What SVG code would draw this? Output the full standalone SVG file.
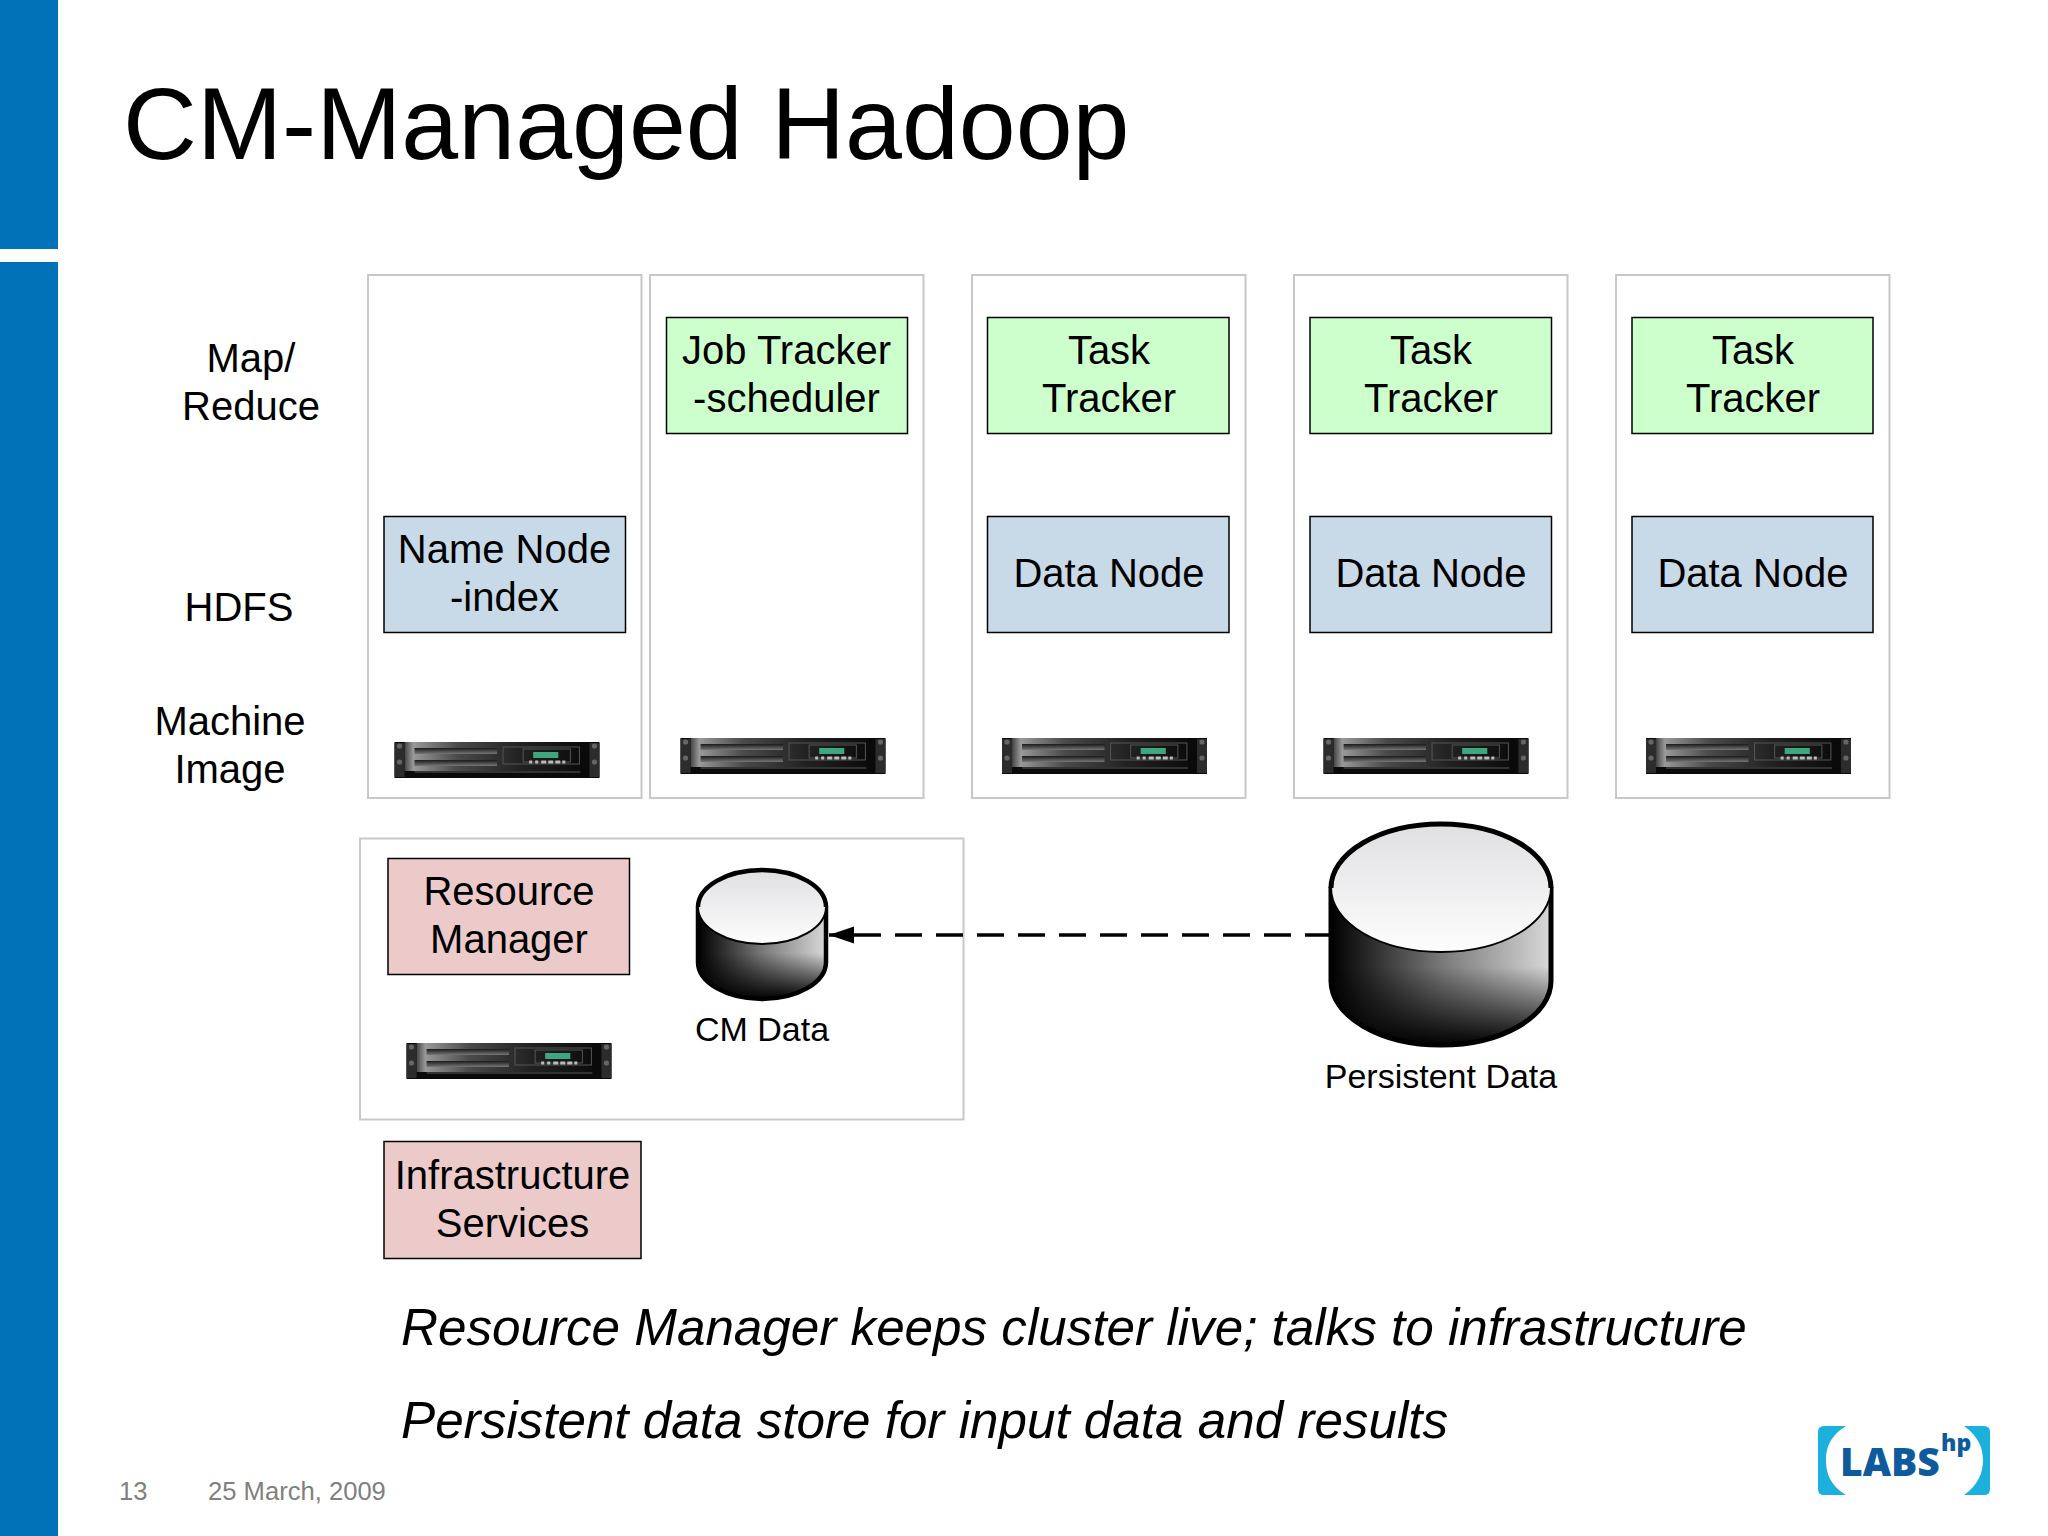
<svg xmlns="http://www.w3.org/2000/svg" width="2048" height="1536" viewBox="0 0 2048 1536">
<style>
text{font-family:"Liberation Sans",Arial,sans-serif;fill:#000}
.col{fill:#fff;stroke:#c8c8c8;stroke-width:2}
.g{fill:#ccffcc;stroke:#000;stroke-width:1.5}
.b{fill:#c8d9e8;stroke:#000;stroke-width:1.5}
.p{fill:#eccaca;stroke:#000;stroke-width:1.5}
.t{font-size:40px;text-anchor:middle}
.s{font-size:34px;text-anchor:middle}
.i{font-size:51.2px;font-style:italic}
.f{font-size:25.6px;fill:#808080}
.cyl{stroke:#000;stroke-linejoin:round}
.logo{font-family:"Open Sans",sans-serif;font-weight:800;fill:#0d5a9c}
</style>
<defs>
<linearGradient id="top" x1="0" y1="0" x2="0" y2="1"><stop offset="0" stop-color="#e0e0e2"/><stop offset="1" stop-color="#fdfdfe"/></linearGradient>
<linearGradient id="sh" x1="0" y1="0" x2="1" y2="0"><stop offset="0" stop-color="#000"/><stop offset=".5" stop-color="#787878"/><stop offset="1" stop-color="#d8d8d8"/></linearGradient>
<linearGradient id="sv" x1="0" y1="0" x2="0" y2="1"><stop offset=".5" stop-color="#000" stop-opacity="0"/><stop offset=".98" stop-color="#000" stop-opacity=".95"/></linearGradient>
<linearGradient id="sb" x1="0" y1="0" x2="1" y2="0"><stop offset="0" stop-color="#444"/><stop offset=".05" stop-color="#999"/><stop offset=".3" stop-color="#4a4a4a"/><stop offset=".65" stop-color="#222"/><stop offset="1" stop-color="#0c0c0c"/></linearGradient>
<linearGradient id="sl" x1="0" y1="0" x2="0" y2="1"><stop offset="0" stop-color="#1a1a1a"/><stop offset="1" stop-color="#777"/></linearGradient>
<marker id="arr" markerUnits="userSpaceOnUse" markerWidth="26" markerHeight="20" refX="25" refY="10" orient="auto"><path d="M0 1.500L25 10L0 18.500Z" fill="#000"/></marker>
<symbol id="server" viewBox="0 0 204 36" overflow="visible" preserveAspectRatio="none">
<rect width="204" height="36" fill="#0a0a0a"/>
<rect x="10" y="0" width="175" height="29" fill="url(#sb)"/>
<rect x="0" y="1" width="10" height="34" fill="#2c2c2c"/><rect x="194" y="1" width="10" height="34" fill="#2c2c2c"/>
<circle cx="5" cy="4" r="2.600" fill="#666"/><circle cx="5" cy="20" r="2.600" fill="#666"/><circle cx="199" cy="4" r="2.600" fill="#666"/><circle cx="199" cy="20" r="2.600" fill="#666"/>
<rect x="20" y="6" width="82" height="6" fill="url(#sl)"/>
<rect x="20" y="18" width="82" height="6" fill="url(#sl)"/>
<rect x="20" y="29" width="165" height="2" fill="#333"/>
<path d="M108 5H184V22H108ZM128 7H175V20H128Z" fill="none" stroke="#555"/>
<rect x="138" y="10" width="25" height="6" fill="#3fa77f"/>
<path d="M134 20h3M140 20h3M146 20h5M153 20h5M160 20h5M167 20h3" stroke="#bbb" stroke-width="3"/>
</symbol>
</defs>
<rect width="2048" height="1536" fill="#fff"/>
<g id="sidebar"><rect width="58" height="249" fill="#0072b8"/><rect y="262" width="58" height="1274" fill="#0072b8"/></g>
<text id="title" x="123" y="159" font-size="102.300">CM-Managed Hadoop</text>
<g id="row-labels">
<text class="t" x="251" y="372">Map/</text><text class="t" x="251" y="420">Reduce</text>
<text class="t" x="239" y="621">HDFS</text>
<text class="t" x="230" y="735">Machine</text><text class="t" x="230" y="783">Image</text>
</g>
<g id="machine-1"><rect class="col" x="368" y="275" width="273.500" height="523"/><use href="#server" x="394.500" y="742" width="205" height="36"/></g>
<g id="name-node"><rect class="b" x="384" y="516.500" width="241.500" height="116"/><text class="t" x="504.500" y="563">Name Node</text><text class="t" x="504.500" y="611">-index</text></g>
<g id="machine-2"><rect class="col" x="650" y="275" width="273.500" height="523"/><use href="#server" x="680.500" y="738" width="205" height="36"/></g>
<g id="job-tracker"><rect class="g" x="666.500" y="317.500" width="241" height="116"/><text class="t" x="786.500" y="364">Job Tracker</text><text class="t" x="786.500" y="412">-scheduler</text></g>
<g id="machine-3"><rect class="col" x="972" y="275" width="273.500" height="523"/><use href="#server" x="1002" y="738" width="205" height="36"/></g>
<g id="task-tracker-1"><rect class="g" x="987.500" y="317.500" width="241.500" height="116"/><text class="t" x="1109" y="364">Task</text><text class="t" x="1109" y="412">Tracker</text></g>
<g id="data-node-1"><rect class="b" x="987.500" y="516.500" width="241.500" height="116"/><text class="t" x="1109" y="587">Data Node</text></g>
<g id="machine-4"><rect class="col" x="1294" y="275" width="273.500" height="523"/><use href="#server" x="1323.500" y="738" width="205" height="36"/></g>
<g id="task-tracker-2"><rect class="g" x="1310" y="317.500" width="241.500" height="116"/><text class="t" x="1431" y="364">Task</text><text class="t" x="1431" y="412">Tracker</text></g>
<g id="data-node-2"><rect class="b" x="1310" y="516.500" width="241.500" height="116"/><text class="t" x="1431" y="587">Data Node</text></g>
<g id="machine-5"><rect class="col" x="1616" y="275" width="273.500" height="523"/><use href="#server" x="1646" y="738" width="205" height="36"/></g>
<g id="task-tracker-3"><rect class="g" x="1632" y="317.500" width="241" height="116"/><text class="t" x="1753" y="364">Task</text><text class="t" x="1753" y="412">Tracker</text></g>
<g id="data-node-3"><rect class="b" x="1632" y="516.500" width="241" height="116"/><text class="t" x="1753" y="587">Data Node</text></g>
<g id="cm-host"><rect class="col" x="360" y="838.500" width="603.500" height="281"/><use href="#server" x="406.500" y="1043" width="205" height="36"/></g>
<g id="resource-manager"><rect class="p" x="388" y="858.500" width="241.500" height="116"/><text class="t" x="509" y="905">Resource</text><text class="t" x="509" y="953">Manager</text></g>
<g id="infrastructure"><rect class="p" x="384" y="1141.500" width="257" height="117"/><text class="t" x="512.500" y="1189">Infrastructure</text><text class="t" x="512.500" y="1236.500">Services</text></g>
<g id="connectors"><path d="M1329 935H829" fill="none" stroke="#000" stroke-width="3.600" stroke-dasharray="27 14" stroke-dashoffset="3" marker-end="url(#arr)"/></g>
<g id="cm-data">
<path d="M698 907V962A64 37 0 0 0 826 962V907Z" fill="url(#sh)"/>
<path d="M698 907V962A64 37 0 0 0 826 962V907Z" fill="url(#sv)" class="cyl" stroke-width="4.500"/>
<ellipse cx="762" cy="907" rx="64" ry="37" fill="url(#top)" class="cyl" stroke-width="2"/>
<path d="M698 907A64 37 0 0 1 826 907" fill="none" class="cyl" stroke-width="4.500"/>
<text class="s" x="762" y="1041">CM Data</text>
</g>
<g id="persistent-data">
<path d="M1331 888V981A110 64 0 0 0 1551 981V888Z" fill="url(#sh)"/>
<path d="M1331 888V981A110 64 0 0 0 1551 981V888Z" fill="url(#sv)" class="cyl" stroke-width="5"/>
<ellipse cx="1441" cy="888" rx="110" ry="64" fill="url(#top)" class="cyl" stroke-width="2"/>
<path d="M1331 888A110 64 0 0 1 1551 888" fill="none" class="cyl" stroke-width="5"/>
<text class="s" x="1441" y="1088">Persistent Data</text>
</g>
<text class="i" x="401" y="1345">Resource Manager keeps cluster live; talks to infrastructure</text>
<text class="i" x="401" y="1437.500">Persistent data store for input data and results</text>
<text class="f" x="119" y="1500">13</text><text class="f" x="208" y="1500">25 March, 2009</text>
<g id="logo">
<path d="M1824 1426H1846C1830 1436 1826 1448 1826 1460C1826 1473 1830 1485 1846 1495H1824Q1818 1495 1818 1489V1432Q1818 1426 1824 1426Z" fill="#1cb0dc"/>
<path d="M1984 1426H1964C1978 1436 1983 1448 1983 1460C1983 1473 1978 1485 1964 1495H1984Q1990 1495 1990 1489V1432Q1990 1426 1984 1426Z" fill="#1cb0dc"/>
<text class="logo" x="1840" y="1476" font-size="39">LABS</text>
<text class="logo" x="1941" y="1451" font-size="23">hp</text>
</g>
</svg>
